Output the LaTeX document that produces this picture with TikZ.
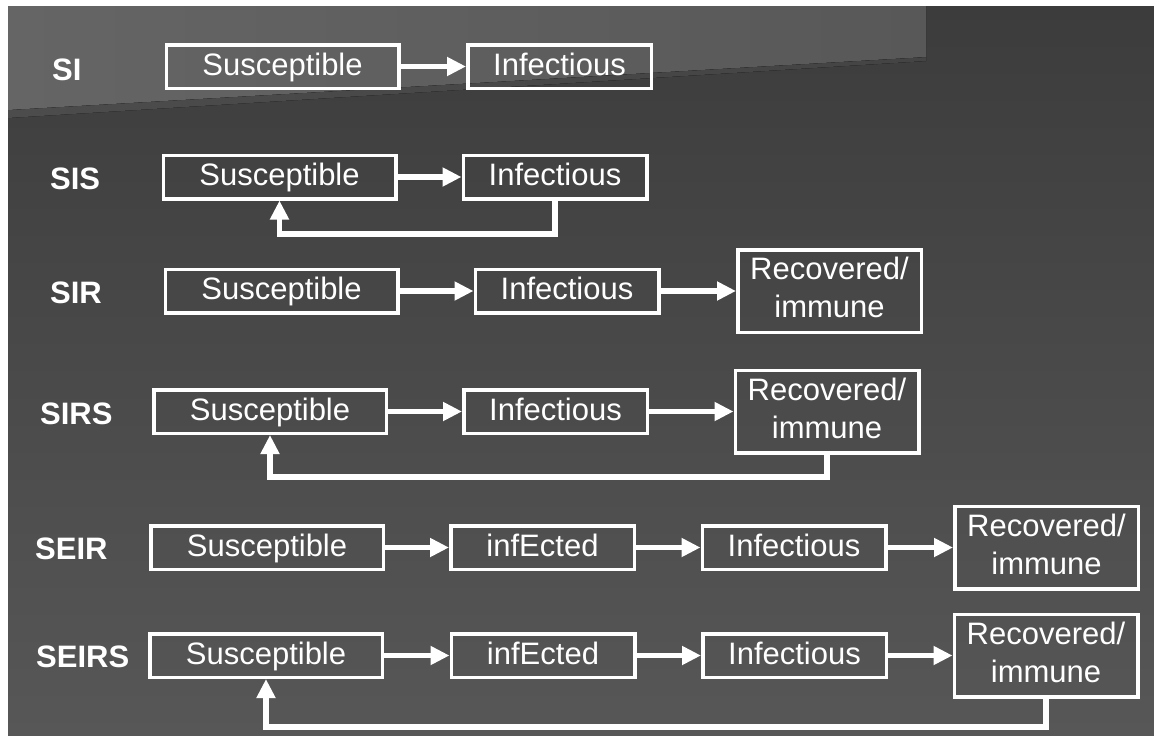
\documentclass[tikz,border=0pt]{standalone}
\usepackage{fontspec}
\setmainfont{Liberation Sans}
\usetikzlibrary{arrows.meta}
\definecolor{bgtop}{HTML}{3C3C3C}
\definecolor{bgbot}{HTML}{575757}
\definecolor{bandL}{HTML}{656565}
\definecolor{bandR}{HTML}{585858}
\definecolor{rimL}{HTML}{4C4C4C}
\definecolor{rimR}{HTML}{444444}
\newcommand\twolines[2]{\begin{tabular}[b]{@{}c@{}}#1\\#2\end{tabular}}

\begin{document}
\begin{tikzpicture}[x=1pt,y=-1pt,
  box/.style={draw=white, line width=3.5pt, inner sep=0pt, text=white,
    font=\fontsize{31}{38}\selectfont, minimum height=43.5pt,
    text height=22pt, text depth=5pt},
  wide/.style={box, minimum width=232.5pt},
  narrow/.style={box, minimum width=183.5pt},
  tall/.style={box, minimum width=183.5pt, minimum height=82.5pt,
    text height=56pt, text depth=3pt},
  model/.style={anchor=base west, text=white, inner sep=0pt,
    font=\fontsize{31}{36}\selectfont\bfseries},
  flow/.style={draw=white, line width=5.5pt,
    -{Triangle[length=19pt,width=18pt]}},
]
\useasboundingbox (0,0) rectangle (1154,736);
% slide background
\fill[white] (0,0) rectangle (1154,736);
\fill[top color=bgtop, bottom color=bgbot] (8,6) rectangle (1154,736);
\fill[left color=rimL, right color=rimR] (8,110) -- (926,57) -- (926,61) -- (8,118) -- cycle;
\fill[left color=bandL, right color=bandR] (8,6) -- (926,6) -- (926,57) -- (8,110) -- cycle;

% SI
\node[model] (mSI) at (52,80) {SI};
\node[wide] (s1) at (282.5,66.5) {Susceptible};
\node[narrow] (i1) at (559.5,66.5) {Infectious};
\draw[flow] (s1) -- (i1);

% SIS
\node[model] (mSIS) at (50,189) {SIS};
\node[wide] (s2) at (279.5,177) {Susceptible};
\node[narrow] (i2) at (555,177) {Infectious};
\coordinate (b2) at (0,234);
\draw[flow] (s2) -- (i2);
\draw[flow] (i2.south) -- (i2.south |- b2) -| (s2.south);

% SIR
\node[model] (mSIR) at (50,303) {SIR};
\node[wide] (s3) at (281.5,291) {Susceptible};
\node[narrow] (i3) at (567,291) {Infectious};
\node[tall] (r3) at (829.5,291) {\twolines{Recovered/}{immune}};
\draw[flow] (s3) -- (i3);
\draw[flow] (i3) -- (r3);

% SIRS
\node[model] (mSIRS) at (40,424) {SIRS};
\node[wide] (s4) at (270,411.5) {Susceptible};
\node[narrow] (i4) at (555.5,411.5) {Infectious};
\node[tall] (r4) at (827,411.5) {\twolines{Recovered/}{immune}};
\coordinate (b4) at (0,477);
\draw[flow] (s4) -- (i4);
\draw[flow] (i4) -- (r4);
\draw[flow] (r4.south) -- (r4.south |- b4) -| (s4.south);

% SEIR
\node[model] (mSEIR) at (35,559) {SEIR};
\node[wide] (s5) at (267,547.5) {Susceptible};
\node[narrow] (e5) at (542.5,547.5) {infEcted};
\node[narrow] (i5) at (794,547.5) {Infectious};
\node[tall] (r5) at (1046.5,547.5) {\twolines{Recovered/}{immune}};
\draw[flow] (s5) -- (e5);
\draw[flow] (e5) -- (i5);
\draw[flow] (i5) -- (r5);

% SEIRS
\node[model] (mSEIRS) at (36,667) {SEIRS};
\node[wide] (s6) at (266,655.5) {Susceptible};
\node[narrow] (e6) at (543,655.5) {infEcted};
\node[narrow] (i6) at (794.5,655.5) {Infectious};
\node[tall] (r6) at (1046,655.5) {\twolines{Recovered/}{immune}};
\coordinate (b6) at (0,727);
\draw[flow] (s6) -- (e6);
\draw[flow] (e6) -- (i6);
\draw[flow] (i6) -- (r6);
\draw[flow] (r6.south) -- (r6.south |- b6) -| (s6.south);
\end{tikzpicture}
\end{document}
